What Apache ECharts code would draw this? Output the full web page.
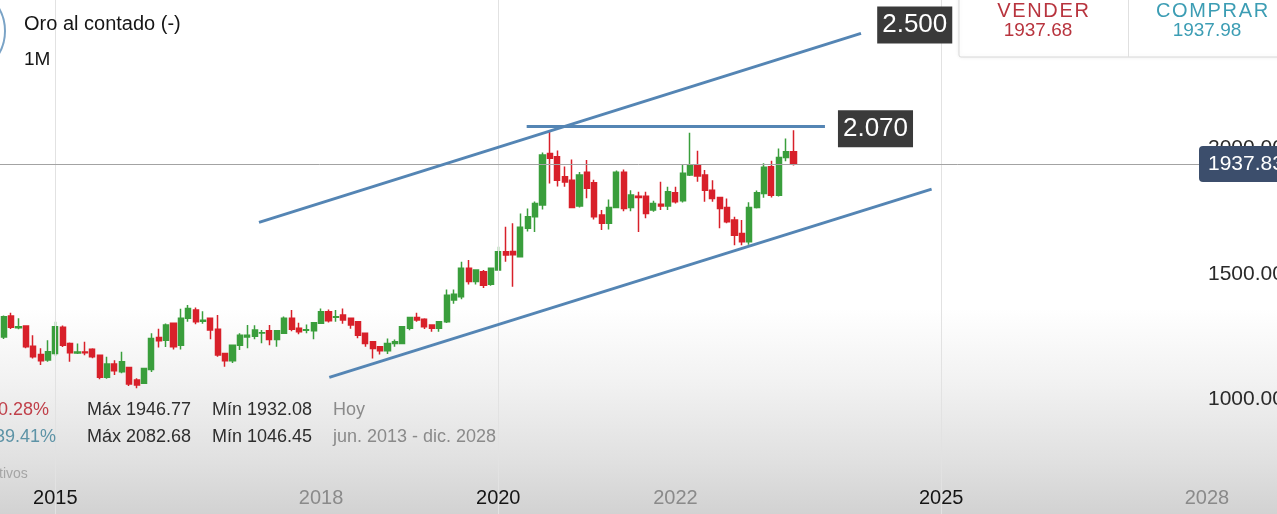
<!DOCTYPE html>
<html><head><meta charset="utf-8">
<script src="https://cdn.jsdelivr.net/npm/echarts@6/dist/echarts.min.js"></script>
<style>
html,body{margin:0;padding:0;overflow:hidden;background:#fff}
#c{width:1277px;height:514px;background:linear-gradient(to bottom,#ffffff 0%,#ffffff 60%,#f1f1f1 75%,#e0e0e0 90%,#d2d2d2 100%)}
</style>
</head><body><div id="c"></div>
<script>
const F = 'Liberation Sans, Arial, Helvetica, sans-serif';
const startYear = 2014, startMonth = 6, monthCount = 173;
const months = [];
for (let k = 0; k < monthCount; k++) {
  const m = startMonth - 1 + k;
  months.push((startYear + Math.floor(m / 12)) + '-' + String(m % 12 + 1).padStart(2, '0'));
}
const yearLabels = ['2015', '2018', '2020', '2022', '2025', '2028'];
const boldYears = ['2015', '2020', '2025'];
const priceTicks = [1000, 1500, 2000];

// [open, close, low, high] monthly, Jun 2014 .. May 2023
const candles = [
[1250,1330,1242,1335],[1333,1288,1281,1346],[1286,1290,1280,1324],[1293,1211,1205,1296],
[1213,1171,1164,1257],[1180,1155,1138,1205],[1158,1191,1151,1237],[1184,1290,1175,1310],
[1288,1217,1210,1295],[1224,1187,1151,1228],[1186,1190,1182,1224],[1190,1187,1177,1231],
[1201,1171,1165,1205],[1177,1089,1081,1180],[1089,1142,1083,1171],[1142,1115,1098,1157],
[1111,1151,1105,1191],[1128,1062,1055,1130],[1078,1058,1046,1085],[1065,1124,1062,1127],
[1120,1244,1110,1264],[1248,1235,1208,1282],[1237,1297,1210,1303],[1304,1211,1200,1306],
[1217,1324,1200,1362],[1324,1363,1310,1377],[1357,1310,1300,1367],[1312,1316,1302,1352],
[1324,1277,1241,1326],[1280,1178,1171,1337],[1184,1155,1131,1187],[1155,1217,1146,1220],
[1217,1257,1198,1264],[1250,1257,1205,1297],[1253,1277,1241,1296],[1265,1266,1225,1277],
[1274,1240,1217,1297],[1240,1274,1211,1277],[1264,1324,1262,1331],[1324,1280,1272,1357],
[1284,1270,1261,1306],[1276,1278,1264,1299],[1274,1306,1241,1309],[1304,1350,1302,1363],
[1350,1314,1307,1359],[1328,1330,1310,1357],[1337,1317,1302,1363],[1324,1297,1282,1326],
[1310,1257,1245,1312],[1264,1224,1211,1266],[1231,1204,1164,1233],[1211,1195,1180,1214],
[1195,1224,1182,1244],[1224,1231,1211,1240],[1224,1290,1221,1292],[1284,1327,1276,1330],
[1327,1317,1310,1346],[1320,1290,1281,1324],[1297,1284,1270,1300],[1284,1310,1270,1313],
[1310,1416,1305,1439],[1397,1420,1382,1439],[1410,1523,1400,1549],[1523,1470,1459,1556],
[1470,1516,1459,1518],[1509,1456,1445,1516],[1460,1523,1454,1525],[1516,1589,1516,1609],
[1589,1576,1549,1688],[1590,1577,1450,1702],[1569,1686,1568,1741],[1682,1728,1670,1761],
[1728,1781,1668,1789],[1775,1974,1757,1984],[1980,1961,1861,2066],[1967,1874,1849,1992],
[1887,1867,1848,1928],[1874,1765,1764,1956],[1771,1894,1765,1906],[1905,1842,1802,1954],
[1864,1728,1717,1875],[1735,1702,1675,1755],[1702,1765,1677,1797],[1765,1905,1765,1912],
[1905,1761,1750,1916],[1765,1815,1750,1834],[1810,1805,1668,1828],[1810,1741,1722,1828],
[1755,1781,1748,1792],[1778,1771,1755,1868],[1771,1828,1755,1848],[1824,1788,1781,1848],
[1792,1901,1785,1934],[1894,1934,1890,2063],[1934,1890,1868,1991],[1894,1834,1788,1914],
[1834,1801,1788,1874],[1805,1761,1682,1807],[1765,1708,1702,1801],[1715,1655,1615,1728],
[1662,1629,1615,1715],[1629,1765,1617,1786],[1765,1824,1761,1833],[1821,1925,1804,1941],
[1927,1814,1805,1951],[1814,1964,1809,2000],[1964,1987,1949,2040],[1987,1937.83,1932,2073]
];

// trend lines in data space: [month index, price]
const upperChannel = [[34.59, 1706], [116.14, 2458]];
const lowerChannel = [[44.11, 1089], [125.71, 1838]];
const resistance = [[70.85, 2090], [111.26, 2090]];
const lastPrice = 1937.83;
const upperLabel = '2.500';
const resistanceLabel = '2.070';

const boxLabel = (txt, dist, off) => ({
  show: true, position: 'end', distance: dist, formatter: txt, offset: off,
  color: '#ffffff', fontSize: 26, lineHeight: 26, fontFamily: F,
  backgroundColor: '#3a3a3a', padding: [6, 5, 5, 5]
});

const chart = echarts.init(document.getElementById('c'), null, {renderer: 'canvas'});
chart.setOption({
  animation: false,
  backgroundColor: 'transparent',
  grid: {left: 0, right: 0, top: 0, bottom: 0, containLabel: false, outerBoundsMode: 'none'},
  xAxis: [{
    type: 'category', data: months, boundaryGap: true,
    axisLine: {show: false}, axisTick: {show: false}, splitLine: {show: false},
    axisLabel: {
      inside: true, margin: 16, verticalAlign: 'middle', fontSize: 20, fontFamily: F,
      interval: (idx, val) => val.endsWith('-01') && yearLabels.includes(val.slice(0, 4)),
      formatter: (val) => { const y = val.slice(0, 4); return boldYears.includes(y) ? '{b|' + y + '}' : '{g|' + y + '}'; },
      rich: {
        b: {color: '#151515', fontSize: 20, fontFamily: F},
        g: {color: '#8a8a8a', fontSize: 20, fontFamily: F}
      }
    }
  }, {
    type: 'value', min: -0.5, max: monthCount - 0.5, show: false
  }],
  yAxis: [{
    type: 'value', position: 'right', min: 545, max: 2591,
    axisLine: {show: false}, axisTick: {show: false}, splitLine: {show: false},
    axisLabel: {
      inside: true, margin: 69, align: 'left', customValues: priceTicks,
      formatter: (v) => Number(v).toFixed(2), color: '#2a2a2a', fontSize: 21, fontFamily: F
    }
  }],
  series: [{
    type: 'line', data: [], xAxisIndex: 0, z: 1, silent: true,
    markLine: {
      silent: true, symbol: ['none', 'none'], animation: false,
      lineStyle: {color: '#e2e2e2', width: 1, type: 'solid'},
      label: {show: false},
      data: boldYears.map(y => ({xAxis: y + '-01'}))
    }
  }, {
    type: 'candlestick', data: candles, xAxisIndex: 0, yAxisIndex: 0, barWidth: '76%', z: 2,
    itemStyle: {color: '#3a9e3c', color0: '#d8202a', borderColor: '#3a9e3c', borderColor0: '#d8202a', borderWidth: 1.5},
    markLine: {
      silent: true, symbol: ['none', 'none'], animation: false,
      lineStyle: {color: '#a3a3a3', width: 1, type: 'solid'},
      label: {
        show: true, position: 'end', distance: [-78, 0], formatter: lastPrice.toFixed(2),
        color: '#ffffff', fontSize: 21, lineHeight: 22, fontFamily: F, backgroundColor: '#3c4e6c',
        borderRadius: 4, padding: [7, 9, 7, 9]
      },
      data: [{yAxis: lastPrice}]
    }
  }, {
    type: 'line', data: [], xAxisIndex: 1, yAxisIndex: 0, z: 5, silent: true,
    markLine: {
      silent: true, symbol: ['none', 'none'], animation: false,
      lineStyle: {color: '#5485b4', width: 3, type: 'solid'},
      label: {show: false},
      data: [
        [{coord: upperChannel[0], label: boxLabel(upperLabel, [17, 28], [0, 0])}, {coord: upperChannel[1]}],
        [{coord: lowerChannel[0]}, {coord: lowerChannel[1]}],
        [{coord: resistance[0], label: boxLabel(resistanceLabel, [13, 0], [0, 3])}, {coord: resistance[1]}]
      ]
    }
  }],
  graphic: [
    {type: 'circle', shape: {cx: -40, cy: 31, r: 45}, style: {fill: 'none', stroke: '#7aa3c6', lineWidth: 2}, z: 10},
    {type: 'text', x: 24, y: 24, style: {text: 'Oro al contado (-)', fill: '#161616', font: '20px ' + F, textVerticalAlign: 'middle'}, z: 10},
    {type: 'text', x: 24, y: 60, style: {text: '1M', fill: '#161616', font: '19px ' + F, textVerticalAlign: 'middle'}, z: 10},
    {type: 'rect', shape: {x: 959, y: -6, width: 330, height: 63, r: 2}, style: {fill: '#ffffff', stroke: '#d9d9d9', lineWidth: 1, shadowBlur: 4, shadowColor: 'rgba(0,0,0,0.08)'}, z: 10},
    {type: 'line', shape: {x1: 1128.5, y1: 0, x2: 1128.5, y2: 57}, style: {stroke: '#e0e0e0', lineWidth: 1}, z: 11},
    {type: 'text', x: 1043, y: 11, style: {text: 'V\u200AE\u200AN\u200AD\u200AE\u200AR', fill: '#b8343e', font: '20px ' + F, textAlign: 'center', textVerticalAlign: 'middle'}, z: 11},
    {type: 'text', x: 1038, y: 31, style: {text: '1937.68', fill: '#b8343e', font: '19px ' + F, textAlign: 'center', textVerticalAlign: 'middle'}, z: 11},
    {type: 'text', x: 1212, y: 11, style: {text: 'C\u200AO\u200AM\u200AP\u200AR\u200AA\u200AR', fill: '#3c9db4', font: '20px ' + F, textAlign: 'center', textVerticalAlign: 'middle'}, z: 11},
    {type: 'text', x: 1207, y: 31, style: {text: '1937.98', fill: '#3c9db4', font: '19px ' + F, textAlign: 'center', textVerticalAlign: 'middle'}, z: 11},
    {type: 'text', x: -2, y: 410, style: {text: '0.28%', fill: '#c0404a', font: '18px ' + F, textVerticalAlign: 'middle'}, z: 10},
    {type: 'text', x: -5, y: 437, style: {text: '39.41%', fill: '#5d93a6', font: '18px ' + F, textVerticalAlign: 'middle'}, z: 10},
    {type: 'text', x: 87, y: 410, style: {text: 'Máx 1946.77', fill: '#2e2e2e', font: '18px ' + F, textVerticalAlign: 'middle'}, z: 10},
    {type: 'text', x: 212, y: 410, style: {text: 'Mín 1932.08', fill: '#2e2e2e', font: '18px ' + F, textVerticalAlign: 'middle'}, z: 10},
    {type: 'text', x: 333, y: 410, style: {text: 'Hoy', fill: '#8a8a8a', font: '18px ' + F, textVerticalAlign: 'middle'}, z: 10},
    {type: 'text', x: 87, y: 437, style: {text: 'Máx 2082.68', fill: '#2e2e2e', font: '18px ' + F, textVerticalAlign: 'middle'}, z: 10},
    {type: 'text', x: 212, y: 437, style: {text: 'Mín 1046.45', fill: '#2e2e2e', font: '18px ' + F, textVerticalAlign: 'middle'}, z: 10},
    {type: 'text', x: 333, y: 437, style: {text: 'jun. 2013 - dic. 2028', fill: '#8a8a8a', font: '18px ' + F, textVerticalAlign: 'middle'}, z: 10},
    {type: 'text', x: -1, y: 474, style: {text: 'tivos', fill: '#a5a5a5', font: '14px ' + F, textVerticalAlign: 'middle'}, z: 10}
  ]
});
</script>
</body></html>
